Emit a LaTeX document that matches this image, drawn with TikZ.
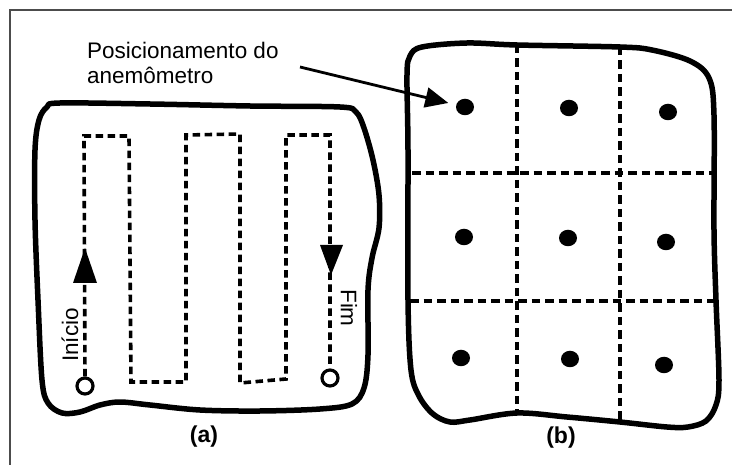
\documentclass[tikz,border=0pt]{standalone}
\usepackage{fontspec}
\setmainfont{Liberation Sans}
\usetikzlibrary{arrows.meta,shapes.geometric}
\begin{document}
\begin{tikzpicture}[x=1pt,y=-1pt,
  frame/.style={line width=1.2pt, draw=black!70},
  outline/.style={line width=5.5pt, line join=round},
  route/.style={line width=3.6pt, dash pattern=on 7.5pt off 4.5pt},
  gridline/.style={line width=4pt, dash pattern=on 8.5pt off 5pt},
  spot/.style={ellipse, fill=black, minimum width=18pt, minimum height=16.5pt, inner sep=0pt},
  endpt/.style={circle, draw, line width=3.2pt, minimum size=16pt, inner sep=0pt, fill=white},
  dirtip/.style={fill=black},
  lbl/.style={font=\fontsize{22.5}{25}\selectfont, inner sep=0pt},
  captxt/.style={font=\fontsize{23}{26}\selectfont\bfseries, inner sep=0pt}]
\useasboundingbox (0,0) rectangle (732,465);
% thin frame
\draw[frame] (732,10) -- (10,10) -- (10,465);

% ---------- panel (a) ----------
\draw[outline] plot[smooth cycle, tension=0.55] coordinates {
 (60,103) (150,104) (250,106) (340,107) (356,112) (364,128) (373,160) (379,195)
 (379,228) (372,258) (368,290) (368,355) (364,388) (352,404) (320,409) (260,411)
 (200,410) (150,405) (120,402) (100,405) (80,412) (62,413) (48,403) (42,380)
 (38,300) (35,220) (35,150) (39,120) (47,107)};

\node[endpt] (s) at (85,386) {};
\node[endpt] (e) at (330,378) {};
\draw[route] (s.north) -- (84,136) -- (129,136) -- (131,382) -- (186,382)
  -- (186,135) -- (240,134) -- (240,383) -- (286,379) -- (286,135) -- (330,135)
  -- (e.north);
\fill[dirtip] (85,248) -- (97,283) -- (73,283) -- cycle;
\fill[dirtip] (331,275) -- (343,245) -- (320,245) -- cycle;
\node[lbl, rotate=90] (ini) at (70,335) {Início};
\node[lbl, rotate=-90] (fim) at (349,308) {Fim};
\node[captxt] (ca) at (204,437) {(a)};

% ---------- panel (b) ----------
\draw[outline] plot[smooth cycle, tension=0.55] coordinates {
 (422,47) (467,43) (517,45) (620,47) (652,50) (690,61) (709,78) (714,115)
 (714,230) (716,300) (719,380) (716,405) (706,421) (688,427) (667,427) (620,422)
 (567,417) (517,413) (470,420) (450,422) (433,414) (419,396) (411,370) (408,300)
 (408,150) (407,75) (410,56)};

\draw[gridline] (517,45) -- (517,413);
\draw[gridline] (620,47) -- (620,422);
\draw[gridline] (412,173) -- (713,173);
\draw[gridline] (410,301) -- (715,301);

\node[spot] (d11) at (465,107) {};
\node[spot] (d12) at (569,108) {};
\node[spot] (d13) at (668,112) {};
\node[spot] (d21) at (464,237) {};
\node[spot] (d22) at (568,238) {};
\node[spot] (d23) at (666,242) {};
\node[spot] (d31) at (461,358) {};
\node[spot] (d32) at (570,359) {};
\node[spot] (d33) at (664,365) {};
\node[captxt] (cb) at (561,438) {(b)};

% ---------- label and pointer ----------
\node[lbl, anchor=north west, align=left] (txt) at (87,42) {Posicionamento do\\anemômetro};
\coordinate (ps) at (300,67);
\draw[line width=2.8pt, -{Triangle[length=23pt,width=20pt]}, shorten >=8pt] (ps) -- (d11);
\end{tikzpicture}
\end{document}
